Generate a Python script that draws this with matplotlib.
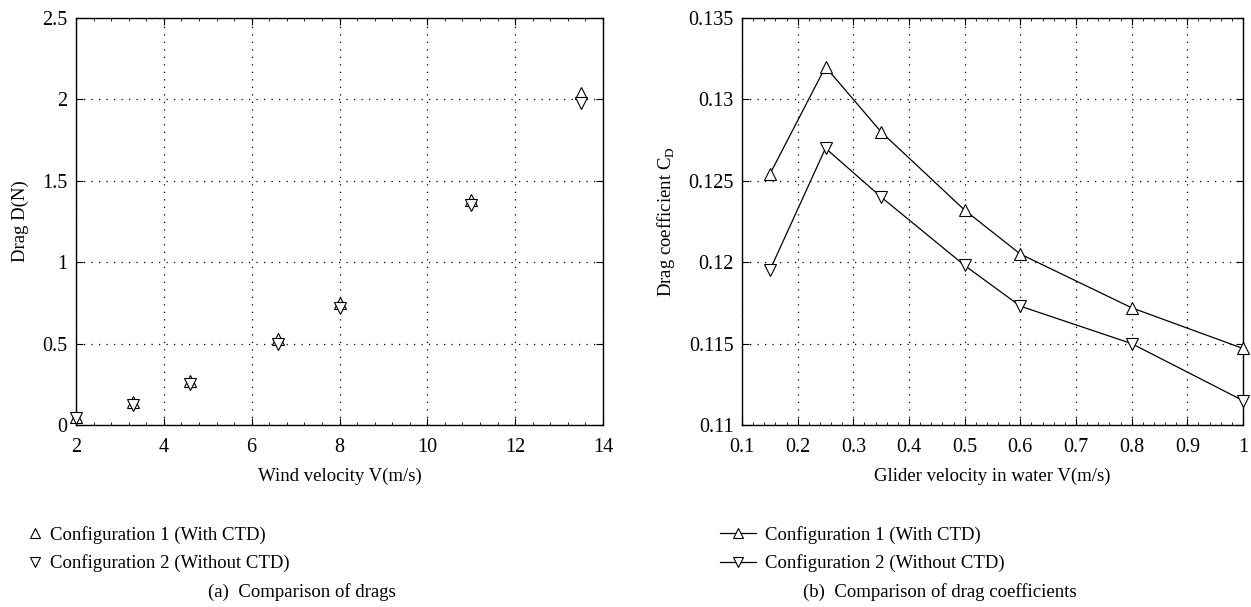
import matplotlib
matplotlib.use("Agg")
import matplotlib.pyplot as plt
from matplotlib.ticker import MultipleLocator
from matplotlib.lines import Line2D

plt.rcParams['font.family'] = ['Liberation Serif', 'DejaVu Serif']
plt.rcParams['mathtext.fontset'] = 'custom'
plt.rcParams['mathtext.rm'] = 'Liberation Serif'

# Left panel: drag vs wind velocity
wind_v = [2, 3.3, 4.6, 6.6, 8, 11, 13.5]
drag_cfg1 = [0.05, 0.14, 0.27, 0.53, 0.75, 1.38, 2.04]
drag_cfg2 = [0.04, 0.12, 0.25, 0.50, 0.72, 1.35, 1.98]

# Right panel: drag coefficient vs glider velocity
glider_v = [0.15, 0.25, 0.35, 0.5, 0.6, 0.8, 1.0]
cd_cfg1 = [0.1254, 0.1320, 0.1280, 0.1232, 0.1205, 0.1172, 0.1147]
cd_cfg2 = [0.1195, 0.1270, 0.1240, 0.1198, 0.1173, 0.1150, 0.1115]

label1 = "Configuration 1 (With CTD)"
label2 = "Configuration 2 (Without CTD)"

W, H = 1251, 607
fig = plt.figure(figsize=(W / 100, H / 100), dpi=100)

def frac_box(x0, y0, x1, y1):
    return [x0 / W, 1 - y1 / H, (x1 - x0) / W, (y1 - y0) / H]

ax1 = fig.add_axes(frac_box(76, 18, 603, 425))
ax2 = fig.add_axes(frac_box(742, 18, 1243, 425))

mk = dict(markersize=9, markerfacecolor='white', markeredgecolor='black', markeredgewidth=0.8,
          clip_on=False, zorder=5)

ax1.plot(wind_v, drag_cfg1, linestyle='none', marker='^', **mk)
ax1.plot(wind_v, drag_cfg2, linestyle='none', marker='v', **mk)
ax1.set_xlim(2, 14)
ax1.set_ylim(0, 2.5)
ax1.xaxis.set_major_locator(MultipleLocator(2))
ax1.xaxis.set_minor_locator(MultipleLocator(0.4))
ax1.set_yticks([0, 0.5, 1, 1.5, 2, 2.5])
ax1.set_yticklabels(['0', '0.5', '1', '1.5', '2', '2.5'])
ax1.set_xlabel("Wind velocity V(m/s)", fontsize=13.5, labelpad=8)
ax1.set_ylabel("Drag D(N)", fontsize=13.5, labelpad=10)

ax2.plot(glider_v, cd_cfg1, color='black', lw=0.9, marker='^', **mk)
ax2.plot(glider_v, cd_cfg2, color='black', lw=0.9, marker='v', **mk)
ax2.set_xlim(0.1, 1.0)
ax2.set_ylim(0.11, 0.135)
ax2.set_xticks([0.1, 0.2, 0.3, 0.4, 0.5, 0.6, 0.7, 0.8, 0.9, 1.0])
ax2.set_xticklabels(['0.1', '0.2', '0.3', '0.4', '0.5', '0.6', '0.7', '0.8', '0.9', '1'])
ax2.xaxis.set_minor_locator(MultipleLocator(0.02))
ax2.set_yticks([0.11, 0.115, 0.12, 0.125, 0.13, 0.135])
ax2.set_yticklabels(['0.11', '0.115', '0.12', '0.125', '0.13', '0.135'])
ax2.set_xlabel("Glider velocity in water V(m/s)", fontsize=13.5, labelpad=8)
ax2.set_ylabel(r"Drag coefficient C$_\mathrm{D}$", fontsize=13.5, labelpad=8)

for ax in (ax1, ax2):
    ax.grid(True, which='major', color='black', linestyle=(0, (1, 5)), linewidth=0.9)
    ax.tick_params(which='both', direction='in', top=True, right=True, labelsize=14.5)
    ax.tick_params(which='major', length=5, width=0.8)
    ax.tick_params(which='minor', length=2.5, width=0.6)
    ax.tick_params(axis='x', pad=9)
    ax.tick_params(axis='y', pad=6)
    for s in ax.spines.values():
        s.set_linewidth(1.0)

# Legends
h1 = Line2D([], [], linestyle='none', marker='^', markersize=7, markerfacecolor='white',
            markeredgecolor='black', markeredgewidth=0.8)
h2 = Line2D([], [], linestyle='none', marker='v', markersize=7, markerfacecolor='white',
            markeredgecolor='black', markeredgewidth=0.8)
fig.legend([h1, h2], [label1, label2], loc='upper left', bbox_to_anchor=(26 / W, 1 - 526 / H),
           frameon=False, fontsize=13.5, handlelength=1.0, handletextpad=0.3, labelspacing=0.55,
           borderaxespad=0, borderpad=0)

l1 = Line2D([], [], color='black', lw=0.9, marker='^', markersize=7, markerfacecolor='white',
            markeredgecolor='black', markeredgewidth=0.8)
l2 = Line2D([], [], color='black', lw=0.9, marker='v', markersize=7, markerfacecolor='white',
            markeredgecolor='black', markeredgewidth=0.8)
fig.legend([l1, l2], [label1, label2], loc='upper left', bbox_to_anchor=(720 / W, 1 - 526 / H),
           frameon=False, fontsize=13.5, handlelength=1.9, handletextpad=0.5, labelspacing=0.55,
           borderaxespad=0, borderpad=0)

# Captions
fig.text(302 / W, 1 - 592 / H, "(a)  Comparison of drags", ha='center', va='center', fontsize=13.5)
fig.text(940 / W, 1 - 592 / H, "(b)  Comparison of drag coefficients", ha='center', va='center', fontsize=13.5)

fig.savefig("out.png", dpi=100)
